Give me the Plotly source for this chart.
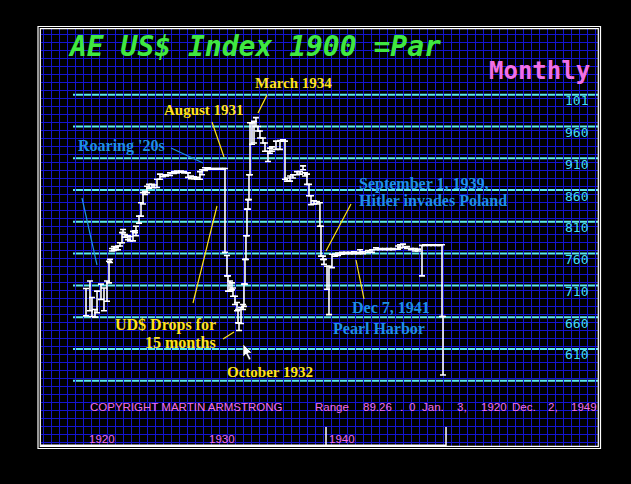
import plotly.graph_objects as go

# ---------------- data ----------------
months = [
    "1920-01", "1920-05", "1920-07", "1920-10", "1920-12", "1921-04", "1921-07", "1921-10", "1921-12",
    "1922-01", "1922-03", "1922-05", "1922-07", "1922-09", "1922-11", "1923-01", "1923-02", "1923-04",
    "1923-07", "1923-09", "1923-12", "1924-02", "1924-03", "1924-06", "1924-08", "1924-10", "1924-12",
    "1925-02", "1925-04", "1925-07", "1925-09", "1925-12", "1926-03", "1926-06", "1926-09", "1927-01",
    "1927-05", "1927-08", "1927-12", "1928-03", "1928-07", "1928-10", "1929-01", "1929-04", "1929-07",
    "1929-09", "1929-12", "1930-03", "1930-06", "1930-09", "1930-12", "1931-03", "1931-06", "1931-08",
    "1931-10", "1931-11", "1932-01", "1932-03", "1932-04", "1932-06", "1932-08", "1932-09", "1932-10",
    "1932-12", "1933-02", "1933-03", "1933-04", "1933-05", "1933-06", "1933-07", "1933-08", "1933-09",
    "1933-11", "1934-01", "1934-03", "1934-05", "1934-07", "1934-10", "1934-12", "1935-03", "1935-05",
    "1935-07", "1935-11", "1936-03", "1936-06", "1936-08", "1936-10", "1937-01", "1937-04", "1937-08",
    "1937-11", "1938-02", "1938-04", "1938-06", "1938-08", "1938-10", "1939-01", "1939-04", "1939-07",
    "1939-08", "1939-10", "1939-11", "1940-02", "1940-04", "1940-07", "1940-10", "1941-01", "1941-05",
    "1941-09", "1942-01", "1942-05", "1942-09", "1942-11", "1943-02", "1943-07", "1943-11", "1944-03",
    "1944-07", "1944-12", "1945-04", "1945-08", "1946-01", "1946-03", "1946-06", "1946-10", "1947-02",
    "1947-06", "1947-09", "1948-01", "1948-04", "1948-08", "1948-12", "1949-04", "1949-07", "1949-09",
    "1949-10",
]
highs = [
    705, 717, 691, 672, 701, 712, 706, 717, 748,
    751, 768, 771, 770, 772, 777, 793, 798, 790,
    788, 787, 795, 796, 803, 819, 840, 856, 858,
    866, 869, 869, 868, 877, 885, 884, 884, 887,
    889, 890, 890, 889, 887, 882, 881, 880, 889,
    892, 895, 895, 894, 894, 894, 894, 894, 894,
    757, 725, 717, 714, 706, 693, 683, 672, 651,
    675, 680, 712, 751, 788, 830, 845, 884, 966,
    966, 968, 974, 960, 953, 942, 934, 921, 926,
    928, 937, 938, 939, 937, 879, 882, 884, 889,
    889, 898, 887, 885, 869, 851, 843, 842, 840,
    803, 756, 751, 740, 740, 759, 759, 761, 762,
    762, 762, 763, 762, 766, 763, 765, 766, 769,
    768, 768, 768, 768, 772, 774, 775, 771, 768,
    768, 767, 773, 774, 774, 774, 774, 774, 774,
    661,
]
lows = [
    662, 670, 661, 660, 667, 688, 670, 685, 714,
    746, 764, 765, 766, 766, 772, 777, 793, 786,
    782, 780, 780, 793, 788, 808, 819, 838, 853,
    856, 863, 864, 864, 864, 877, 881, 882, 883,
    886, 887, 888, 887, 880, 878, 878, 877, 877,
    884, 891, 893, 893, 893, 893, 893, 893, 762,
    725, 701, 701, 703, 693, 680, 670, 651, 639,
    650, 672, 677, 712, 751, 788, 830, 845, 884,
    932, 934, 960, 953, 942, 934, 921, 905, 918,
    921, 924, 924, 937, 877, 874, 874, 879, 884,
    885, 892, 882, 869, 851, 837, 838, 838, 803,
    756, 751, 743, 704, 664, 738, 756, 757, 759,
    760, 760, 760, 760, 761, 760, 762, 762, 766,
    766, 766, 766, 766, 767, 769, 770, 768, 766,
    764, 764, 725, 773, 773, 773, 773, 773, 661,
    569,
]
level_values = [1010, 960, 910, 860, 810, 760, 710, 660, 610, 560]
level_labels = ["101", "960", "910", "860", "810", "760", "710", "660", "610", ""]
decade_labels = ["1920", "1930", "1940"]
decade_dates = ["1920-01-01", "1930-01-01", "1940-01-01"]
tick_dates = ["1940-01-01", "1950-01-01"]

mids = [(h + l) / 2 for h, l in zip(highs, lows)]
halves = [(h - l) / 2 for h, l in zip(highs, lows)]

# ---------------- layout helpers (pixel -> paper) ----------------
L, R, T, B = 41, 598, 29, 446
W, H = R - L, B - T


def px(x):
    return (x - L) / W


def py(y):
    return (B - y) / H


fig = go.Figure()
fig.add_trace(go.Scatter(
    x=months, y=mids, mode="markers",
    marker=dict(size=1, color="white", opacity=0),
    error_y=dict(type="data", array=halves, symmetric=True,
                 color="white", thickness=1.6, width=3),
    hoverinfo="skip", showlegend=False,
))

shapes = []
# cyan level lines
for v in level_values:
    shapes.append(dict(type="line", xref="paper", yref="y", x0=px(73), x1=1, y0=v, y1=v,
                       line=dict(color="#5BE8EE", width=2), layer="between"))
# borders
shapes.append(dict(type="rect", xref="paper", yref="paper", x0=px(38), x1=px(600.5),
                   y0=py(448.5), y1=py(26.5), line=dict(color="white", width=1.2)))
shapes.append(dict(type="rect", xref="paper", yref="paper", x0=px(40.3), x1=px(598.3),
                   y0=py(446.3), y1=py(28.6), line=dict(color="white", width=1.2)))
# bottom axis line + ticks
shapes.append(dict(type="line", xref="paper", yref="paper", x0=0, x1=px(446), y0=py(445.5), y1=py(445.5),
                   line=dict(color="white", width=2)))
for d in tick_dates:
    shapes.append(dict(type="line", xref="x", yref="paper", x0=d, x1=d, y0=py(446), y1=py(427),
                       line=dict(color="white", width=1.5)))

# pointer lines
def seg(x0, y0, x1, y1, color, width=1.2, dash="solid"):
    shapes.append(dict(type="line", xref="paper", yref="paper", x0=px(x0), y0=py(y0), x1=px(x1), y1=py(y1),
                       line=dict(color=color, width=width, dash=dash)))

BLUE = "#1E8FE6"
YEL = "#FFE21A"
seg(82, 198, 97, 265, BLUE, 1.2)
seg(171, 148, 203, 163, BLUE, 1.2)
seg(212, 122, 224, 157, YEL)
seg(267, 95, 258, 113, YEL)
seg(217, 206, 193, 303, YEL)
seg(234, 332, 223, 339, YEL)
seg(351, 204, 326, 251, YEL)
seg(356, 260, 364, 299, YEL)

# mouse cursor arrow
pts = [(243, 344), (243, 357), (246, 354), (249, 360), (251, 359), (248, 353), (252, 353)]
path = "M " + " L ".join(f"{px(a):.5f},{py(b):.5f}" for a, b in pts) + " Z"
shapes.append(dict(type="path", xref="paper", yref="paper", path=path,
                   fillcolor="white", line=dict(color="black", width=0.5)))

ann = []
MONO = "DejaVu Sans Mono"
SERIF = "Liberation Serif"
SANS = "Liberation Sans"
PINK = "#F26FE6"

def text(t, x, y, color, size, family, xanchor="left", yanchor="middle"):
    ann.append(dict(text=t, xref="paper", yref="paper", x=px(x), y=py(y), xanchor=xanchor, yanchor=yanchor,
                    showarrow=False, font=dict(color=color, size=size, family=family)))

text("<b><i>AE US$ Index 1900 =Par</i></b>", 66, 47, "#40E840", 28, MONO)
text("<b>Monthly</b>", 592, 71, PINK, 24, MONO, xanchor="right")

for v, lab in zip(level_values, level_labels):
    if lab:
        ann.append(dict(text=lab, xref="paper", yref="y", x=px(590), y=v, xanchor="right", yanchor="middle",
                        yshift=-6, showarrow=False,
                        font=dict(color="#40DDF0", size=13, family=MONO)))

text("<b>March 1934</b>", 253, 83, YEL, 15, SERIF)
text("<b>August 1931</b>", 162, 110, YEL, 15, SERIF)
text("<b>Roaring '20s</b>", 76, 146, BLUE, 16, SERIF)
text("<b>September 1, 1939,</b>", 357, 184, BLUE, 16, SERIF)
text("<b>Hitler invades Poland</b>", 357, 200, BLUE, 16, SERIF)
text("<b>UD$ Drops for</b>", 218, 325, YEL, 16, SERIF, xanchor="right")
text("<b>15 months</b>", 218, 342, YEL, 16, SERIF, xanchor="right")
text("<b>Dec 7, 1941</b>", 350, 307, BLUE, 16, SERIF)
text("<b>Pearl Harbor</b>", 331, 328, BLUE, 16, SERIF)
text("<b>October 1932</b>", 225, 372, YEL, 15, SERIF)

# copyright / range line
for t, x in [("COPYRIGHT MARTIN ARMSTRONG", 88), ("Range", 313), ("89.26", 361), (".", 398), ("0", 407),
             ("Jan.", 420), ("3,", 455), ("1920", 479), ("Dec.", 510), ("2,", 546), ("1949", 569)]:
    text(t, x, 407, PINK, 11.5, SANS)

for lab, d in zip(decade_labels, decade_dates):
    ann.append(dict(text=lab, xref="x", yref="paper", x=d, y=py(439), xanchor="left", yanchor="middle",
                    xshift=1, showarrow=False, font=dict(color=PINK, size=11.5, family=SANS)))

fig.update_layout(
    width=631, height=484,
    margin=dict(l=L, r=631 - R, t=T, b=484 - B, pad=0),
    paper_bgcolor="black", plot_bgcolor="black",
    showlegend=False,
    xaxis=dict(type="date", range=["1916-04-01", "1962-09-01"], showticklabels=False,
               showgrid=True, gridcolor="#1414D0", gridwidth=1.2, dtick="M8", tick0="1916-06-10",
               zeroline=False, showline=False, ticks=""),
    yaxis=dict(range=[457.3, 1113.4], showticklabels=False, showgrid=True, gridcolor="#1414D0",
               gridwidth=1.2, tick0=1104.4, dtick=12.587, zeroline=False, showline=False, ticks=""),
    shapes=shapes, annotations=ann,
)

fig.write_html("out.html", config={"displayModeBar": False},
               post_script="document.body.style.margin='0px';")
